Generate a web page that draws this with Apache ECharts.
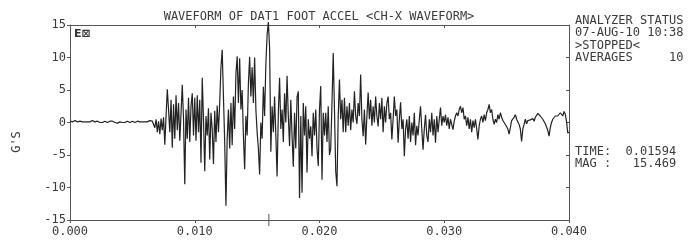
<!DOCTYPE html>
<html>
<head>
<meta charset="utf-8">
<script src="https://cdn.jsdelivr.net/npm/echarts@6/dist/echarts.min.js"></script>
<style>
  html, body { margin: 0; padding: 0; background: #fff; }
  #chart { width: 694px; height: 241px; }
</style>
</head>
<body>
<div id="chart"></div>
<script>
// sample spacing of the captured waveform (s)
var sampleStep = 0.0001;

// acceleration in G's, one value per sample
var accel = [
    0.2, 0.2, 0.1, 0.2, 0.3, 0.2, 0.1, 0.1, 0.2, 0.2,
    0.1, 0.0, 0.1, 0.2, 0.1, 0.0, 0.1, 0.2, 0.3, 0.2,
    0.1, 0.1, 0.2, 0.1, 0.0, -0.1, 0.0, 0.1, 0.2, 0.1,
    0.0, 0.1, 0.2, 0.3, 0.2, 0.1, 0.0, 0.0, -0.1, 0.0,
    0.1, 0.1, 0.0, -0.1, 0.0, 0.1, 0.2, 0.1, 0.0, 0.1,
    0.2, 0.1, 0.0, 0.1, 0.2, 0.2, 0.1, 0.0, 0.1, 0.2,
    0.1, 0.0, 0.1, 0.2, 0.3, 0.1, 0.2,
    0.3, -0.8, 0.5,
    -1.5, 0.2, -1.8, 0.6, -1.2, 0.8, -3.4, 1.0, 5.1, 2.0,
    -1.5, 3.5, -3.9, 2.8, -2.5, 4.2, -1.2, 3.0, -2.8, 1.5,
    5.8, 0.5, -9.5, 2.0, -2.5, 3.8, -3.0, 2.5, 4.5, -2.0,
    3.8, -2.8, 4.2, -1.5, 3.5, -6.2, 6.9, 0.5, -7.5, 1.0,
    -2.0, 2.2, -5.7, 1.5, -1.0, -6.4, 1.8, -3.0, 2.6, -1.5,
    3.0, 8.5, 11.2, 4.0, -3.0, -12.8, -2.5, 2.0, -4.0, 3.0,
    -3.5, 4.0, -1.0, 7.5, 10.2, 3.0, 9.9, 2.0, 5.0, -2.0,
    -7.2, 1.0, -2.0, 6.0, 10.1, 4.0, 8.5, 3.0, 10.0, 2.0,
    -1.5, -4.0, -8.0, 0.0, -2.5, 5.5, 1.0, 9.0, 13.5, 15.469,
    11.5, -4.5, 2.5, -1.5, 4.0, -2.0, -8.3, 1.5, 6.9, -1.0,
    2.0, -3.0, 4.5, 0.0, 7.2, 1.0, -3.6, 3.5, -2.0, -6.8,
    1.5, -4.0, 3.9, 4.8, -11.6, 1.0, -10.8, 3.0, -2.0, 2.5,
    -7.7, 0.5, -2.5, -0.6, -5.2, 1.5, -2.0, 2.0, -4.0, -6.7,
    2.0, 5.6, -8.8, 1.5, -2.0, 1.5, -3.0, 2.5, -5.0, -4.0,
    3.0, 10.7, 2.0, -7.5, -9.8, 1.0, 6.6, 0.5, 3.5, -1.5,
    3.8, -1.5, 2.5, -0.5, 3.0, -1.2, 2.0, 0.0, 4.8, 1.0,
    -0.2, 3.0, 1.0, 7.4, 0.5, -2.1, 2.0, -3.4, 1.0, 4.6,
    0.5, 3.5, -0.5, 2.5, 0.0, 4.0, 1.0, -0.6, 3.0, 0.5,
    3.8, -1.5, 2.5, 0.0, 3.0, 4.0, 0.5, 1.5, -2.6, 0.5,
    4.0, 1.0, 2.0, -3.1, 0.5, 3.1, -1.0, 0.5, -5.2, -1.0,
    0.5, -2.5, 1.0, -3.0, 0.0, -2.0, 1.5, -3.5, -0.5, -2.0,
    0.5, 2.5, -1.0, -4.2, -1.0, 1.2, -2.0, -3.0, 0.5, -1.5,
    1.5, -2.0, 0.5, -3.1, 1.0, -1.5, 0.5, 2.3, -0.5, 1.0,
    0.0, 1.2, -0.5, 0.8, -1.0, 0.5, -0.3, -1.1, 0.2, 1.0,
    1.5, 1.0, 2.0, 2.5, 1.5, 2.3, 0.5, 1.0, -0.5, 0.8,
    -1.0, 0.5, -1.5, 0.3, -0.8, 0.5, -1.0, -2.6, -0.5, 0.5,
    1.0, 0.0, 1.2, 0.3, 1.5, 2.0, 2.8, 1.5, 2.0, 0.5,
    -0.3, 0.5, 0.0, 1.2, 0.5, 1.5, 0.8, 0.3, 0.5, -0.3,
    -0.6, -1.0, -1.8, -0.8, 0.3, 0.0, 0.8, 1.2, 0.5, 0.2,
    -0.3, -1.0, -2.9, -1.0, -0.3, 0.5, -0.2, 0.3, 0.0, 0.4,
    0.3, 0.6, 0.2, 0.8, 1.0, 1.4, 1.7, 1.0, 1.3, 0.5,
    0.5, -0.2, -0.5, -1.2, -2.1, -0.8, 0.0, 0.5, 0.3, 1.0,
    0.8, 1.0, 0.7, 1.5, 1.2, 1.0, 1.7, 1.3, 0.2, -1.6, -1.5
];

// cursor readout
var cursorTime = 0.01594;
var cursorMag = 15.469;

var xTicks = ['0.000', '0.010', '0.020', '0.030', '0.040'];

var statusLines = [
    'ANALYZER STATUS',
    '07-AUG-10 10:38',
    '>STOPPED<',
    'AVERAGES     10'
];

var titleText = 'WAVEFORM OF DAT1 FOOT ACCEL <CH-X WAVEFORM>';

var mono = 'DejaVu Sans Mono';
var ink = '#3a3a3a';

var seriesData = accel.map(function (v, i) {
    return [+(i * sampleStep).toFixed(4), v];
});

var chart = echarts.init(document.getElementById('chart'), null, {renderer: 'canvas'});

var axisLine = {show: true, onZero: false, lineStyle: {color: '#555', width: 1}};

var graphics = [{
        type: 'text',
        x: 319, y: 17,
        style: {text: titleText, font: '12px "' + mono + '"', fill: ink, textAlign: 'center', textVerticalAlign: 'middle'}
    }, {
        type: 'text',
        x: 17, y: 142, rotation: Math.PI / 2,
        style: {text: "G'S", font: '12px "' + mono + '"', fill: ink, textAlign: 'center', textVerticalAlign: 'middle'}
    }, {
        type: 'text',
        x: 74, y: 34,
        style: {text: 'E\u22A0', font: 'bold 11px "DejaVu Sans"', fill: '#333', textVerticalAlign: 'middle'}
    }, {
        type: 'text',
        x: 575, y: 151.5,
        style: {text: 'TIME:  ' + cursorTime.toFixed(5), font: '12px "' + mono + '"', fill: ink, textVerticalAlign: 'middle'}
    }, {
        type: 'text',
        x: 575, y: 163.5,
        style: {text: 'MAG :   ' + cursorMag.toFixed(3), font: '12px "' + mono + '"', fill: ink, textVerticalAlign: 'middle'}
    }];

statusLines.forEach(function (line, i) {
    graphics.push({
        type: 'text',
        x: 575, y: 20.5 + i * 12.5,
        style: {text: line, font: '12px "' + mono + '"', fill: ink, textVerticalAlign: 'middle'}
    });
});

var option = {
    backgroundColor: '#fff',
    animation: false,
    grid: {left: 70, right: 125, top: 25, bottom: 21},
    xAxis: [{
            type: 'value',
            min: 0,
            max: 0.04,
            interval: 0.01,
            axisLine: axisLine,
            axisTick: {show: true, length: 3, lineStyle: {color: '#555'}},
            axisLabel: {
                margin: 6,
                color: ink,
                fontFamily: mono,
                fontSize: 12,
                formatter: function (v) {
                    return xTicks[Math.round(v / 0.01)];
                }
            },
            splitLine: {show: false}
        }, {
            type: 'value',
            position: 'top',
            min: 0,
            max: 0.04,
            interval: 0.01,
            axisLine: axisLine,
            axisTick: {show: true, inside: true, length: 3, lineStyle: {color: '#555'}},
            axisLabel: {show: false},
            splitLine: {show: false}
        }],
    yAxis: [{
            type: 'value',
            min: -15,
            max: 15,
            interval: 5,
            axisLine: axisLine,
            axisTick: {show: true, length: 3, lineStyle: {color: '#555'}},
            axisLabel: {margin: 4, color: ink, fontFamily: mono, fontSize: 12},
            splitLine: {show: false}
        }, {
            type: 'value',
            position: 'right',
            min: -15,
            max: 15,
            interval: 5,
            axisLine: axisLine,
            axisTick: {show: true, inside: true, length: 3, lineStyle: {color: '#555'}},
            axisLabel: {show: false},
            splitLine: {show: false}
        }],
    series: [{
            type: 'line',
            data: seriesData,
            symbol: 'none',
            clip: false,
            lineStyle: {color: '#222', width: 1.2},
            markPoint: {
                symbolKeepAspect: false,
                label: {show: false},
                itemStyle: {color: '#fff', borderColor: '#333', borderWidth: 1},
                data: [
                    {coord: [cursorTime, cursorMag], symbol: 'circle', symbolSize: 5},
                    {coord: [cursorTime, -15], symbol: 'rect', symbolSize: [1, 12], itemStyle: {color: '#555', borderWidth: 0}}
                ]
            }
        }],
    graphic: graphics
};

chart.setOption(option);
</script>
</body>
</html>
